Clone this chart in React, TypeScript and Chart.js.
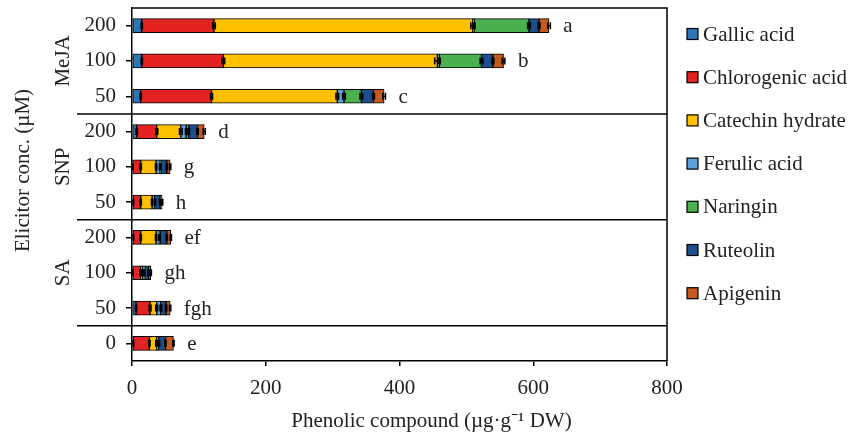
import React, { useEffect, useRef } from "react";
import { Chart, registerables } from "chart.js";

Chart.register(...registerables);

const FONT = "'Liberation Serif', 'Times New Roman', serif";
const FS = 21;

// Categories from top to bottom
const categories = ["MeJA 200", "MeJA 100", "MeJA 50", "SNP 200", "SNP 100", "SNP 50", "SA 200", "SA 100", "SA 50", "Control 0"];
const concLabels = ["200", "100", "50", "200", "100", "50", "200", "100", "50", "0"];
const groupLabels = ["MeJA", "SNP", "SA"];
const groupStart = [0, 3, 6];
const groupEnd = [2, 5, 8];
const letters = ["a", "b", "c", "d", "g", "h", "ef", "gh", "fgh", "e"];

const seriesNames = ["Gallic acid", "Chlorogenic acid", "Catechin hydrate", "Ferulic acid", "Naringin", "Ruteolin", "Apigenin"];
const seriesColors = ["#2E75B6", "#E32222", "#FFC000", "#5BA3DC", "#4CAF50", "#1F4E8C", "#C55A1E"];

const gallic = [14.6, 14.6, 13, 7, 1, 2, 2, 1, 6, 2];
const chlorogenic = [108, 122, 106, 30, 12, 11, 11, 12, 21, 24];
const catechin = [387, 320, 188, 36, 23, 17, 23, 3, 10, 11];
const ferulic = [2, 3, 10, 8, 6, 4, 5, 2, 6, 3];
const naringin = [82, 63, 26, 4, 1, 1, 1, 1, 1, 1];
const ruteolin = [15, 17, 18, 13, 9, 7, 10, 6, 7, 9];
const apigenin = [15, 16, 16, 10, 5, 3, 6, 3, 6, 12];

const gallicErr = [1, 1, 1, 1, 0.5, 0.5, 0.5, 0.3, 1, 0.5];
const chlorogenicErr = [2, 2, 1.5, 1.5, 1, 1, 1, 1, 1.5, 1];
const catechinErr = [3, 4, 2, 2, 1, 1, 1, 1, 1.5, 1.5];
const ferulicErr = [1, 1, 2, 1, 1, 0.5, 1, 0.5, 1, 0.5];
const naringinErr = [2, 2, 2, 1, 0.3, 0.3, 0.3, 0.3, 0.3, 0.3];
const ruteolinErr = [1.5, 1.5, 1.5, 1, 1, 1, 1, 1, 1, 1];
const apigeninErr = [2, 2, 2, 1.5, 1, 1, 1, 1, 1, 1];

const seriesValues = [gallic, chlorogenic, catechin, ferulic, naringin, ruteolin, apigenin];
const seriesErrors = [gallicErr, chlorogenicErr, catechinErr, ferulicErr, naringinErr, ruteolinErr, apigeninErr];

const xTitle = "Phenolic compound (µg·g⁻¹ DW)";
const yTitle = "Elicitor conc. (µM)";

const decorPlugin = {
  id: "decor",
  afterDatasetsDraw(chart: any) {
    const ctx = chart.ctx;
    const xs = chart.scales.x;
    const ys = chart.scales.y;
    ctx.save();
    ctx.strokeStyle = "#000";
    ctx.lineWidth = 1.5;
    // error bars
    for (let j = 0; j < categories.length; j++) {
      const y = ys.getPixelForValue(j);
      let cum = 0;
      for (let i = 0; i < seriesValues.length; i++) {
        cum += seriesValues[i][j];
        const e = seriesErrors[i][j];
        const x0 = xs.getPixelForValue(cum - e);
        const x1 = xs.getPixelForValue(cum + e);
        ctx.beginPath();
        ctx.moveTo(x0, y);
        ctx.lineTo(x1, y);
        ctx.moveTo(x0, y - 3.5);
        ctx.lineTo(x0, y + 3.5);
        ctx.moveTo(x1, y - 3.5);
        ctx.lineTo(x1, y + 3.5);
        ctx.stroke();
      }
      // letter
      const endX = xs.getPixelForValue(cum + seriesErrors[seriesErrors.length - 1][j]);
      ctx.fillStyle = "#222";
      ctx.font = `${FS}px ${FONT}`;
      ctx.textAlign = "left";
      ctx.textBaseline = "middle";
      ctx.fillText(letters[j], endX + 13, y + 1);
    }
    ctx.restore();
  },
  afterDraw(chart: any) {
    const ctx = chart.ctx;
    const { left, right, top, bottom } = chart.chartArea;
    const ys = chart.scales.y;
    ctx.save();
    ctx.strokeStyle = "#000";
    ctx.lineWidth = 1.5;
    // frame top and right
    ctx.beginPath();
    ctx.moveTo(left, top);
    ctx.lineTo(right, top);
    ctx.lineTo(right, bottom);
    ctx.stroke();
    // group separators
    for (let g = 0; g < groupEnd.length; g++) {
      const yy = (ys.getPixelForValue(groupEnd[g]) + ys.getPixelForValue(groupEnd[g] + 1)) / 2;
      ctx.beginPath();
      ctx.moveTo(77, yy);
      ctx.lineTo(right, yy);
      ctx.stroke();
    }
    ctx.fillStyle = "#222";
    ctx.font = `${FS}px ${FONT}`;
    ctx.textAlign = "center";
    ctx.textBaseline = "middle";
    // group labels
    for (let g = 0; g < groupLabels.length; g++) {
      const yy = (ys.getPixelForValue(groupStart[g]) + ys.getPixelForValue(groupEnd[g])) / 2;
      ctx.save();
      ctx.translate(63, yy);
      ctx.rotate(-Math.PI / 2);
      ctx.fillText(groupLabels[g], 0, 0);
      ctx.restore();
    }
    // y title
    ctx.save();
    ctx.translate(23, (top + bottom) / 2 - 14);
    ctx.rotate(-Math.PI / 2);
    ctx.fillText(yTitle, 0, 0);
    ctx.restore();
    // x title
    ctx.fillText(xTitle, (left + right) / 2 + 32, 421);
    // legend
    for (let i = 0; i < seriesNames.length; i++) {
      const ly = 34 + i * 43.2;
      ctx.fillStyle = seriesColors[i];
      ctx.fillRect(687, ly - 5.5, 11, 11);
      ctx.lineWidth = 1.2;
      ctx.strokeStyle = "#000";
      ctx.strokeRect(687, ly - 5.5, 11, 11);
      ctx.fillStyle = "#222";
      ctx.textAlign = "left";
      ctx.fillText(seriesNames[i], 703, ly + 1);
    }
    ctx.restore();
  },
};

export default function App() {
  const ref = useRef<HTMLCanvasElement | null>(null);
  useEffect(() => {
    document.body.style.margin = "0";
    const canvas = ref.current;
    if (!canvas) return;
    const chart = new Chart(canvas, {
      type: "bar",
      data: {
        labels: categories,
        datasets: seriesNames.map((name, i) => ({
          label: name,
          data: seriesValues[i],
          backgroundColor: seriesColors[i],
          borderColor: "#000",
          borderWidth: 1,
          borderSkipped: false,
          barThickness: 14,
        })),
      },
      options: {
        indexAxis: "y",
        animation: false,
        responsive: false,
        maintainAspectRatio: false,
        layout: { padding: { top: 8, right: 195, bottom: 0, left: 0 } },
        plugins: { legend: { display: false }, tooltip: { enabled: false } },
        scales: {
          x: {
            type: "linear",
            stacked: true,
            min: 0,
            max: 800,
            ticks: { stepSize: 200, color: "#222", font: { family: FONT, size: FS }, padding: 10 },
            grid: { drawOnChartArea: false, drawTicks: true, tickLength: 5, color: "#000", lineWidth: 1.5 },
            border: { display: true, color: "#000", width: 1.5 },
            afterFit: (s: any) => { s.height = 76; s.paddingLeft = 0; s.paddingRight = 0; },
          },
          y: {
            type: "category",
            stacked: true,
            ticks: {
              color: "#222",
              font: { family: FONT, size: FS },
              padding: 10,
              autoSkip: false,
              callback: (_v: any, idx: number) => concLabels[idx],
            },
            grid: { drawOnChartArea: false, drawTicks: true, tickLength: 6, offset: false, color: "#000", lineWidth: 1.5 },
            border: { display: true, color: "#000", width: 1.5 },
            afterFit: (s: any) => { s.width = 132; s.paddingTop = 0; s.paddingBottom = 0; },
          },
        },
      },
      plugins: [decorPlugin],
    } as any);
    return () => chart.destroy();
  }, []);
  return (
    <div style={{ width: 862, height: 437, background: "#fff" }}>
      <canvas ref={ref} width={862} height={437} style={{ display: "block" }} />
    </div>
  );
}
